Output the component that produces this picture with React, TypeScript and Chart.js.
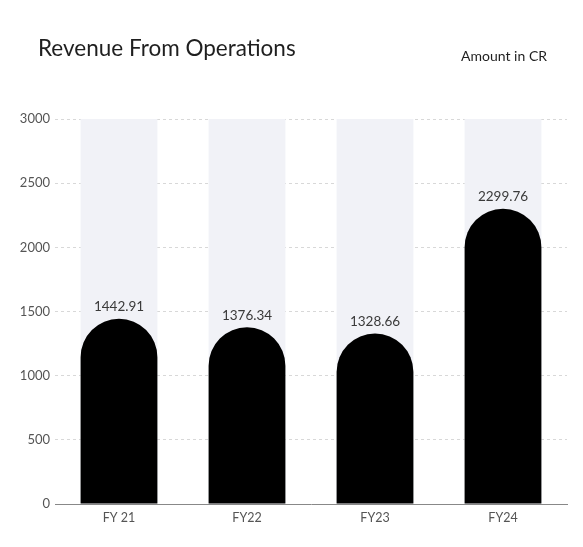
import React, { useEffect, useRef } from "react";
import { Chart, registerables } from "chart.js";

Chart.register(...registerables);

const categories = ["FY 21", "FY22", "FY23", "FY24"];
const revenue = [1442.91, 1376.34, 1328.66, 2299.76];
const backdrop = [3000, 3000, 3000, 3000];
const yTicks = [0, 500, 1000, 1500, 2000, 2500, 3000];
const titleText = "Revenue From Operations";
const unitText = "Amount in CR";

const FONT = "Lato, 'Noto Sans', sans-serif";

const headerPlugin = {
  id: "header",
  afterDraw(chart: any) {
    const ctx = chart.ctx;
    ctx.save();
    ctx.fillStyle = "#1f1f1f";
    ctx.textBaseline = "middle";
    ctx.textAlign = "left";
    ctx.font = `400 22.5px ${FONT}`;
    ctx.fillText(titleText, 38, 49);
    ctx.textAlign = "right";
    ctx.font = `400 14px ${FONT}`;
    ctx.fillText(unitText, 547, 56);
    ctx.restore();
  },
};

const valueLabelPlugin = {
  id: "valueLabels",
  afterDatasetsDraw(chart: any) {
    const ctx = chart.ctx;
    const meta = chart.getDatasetMeta(0);
    ctx.save();
    ctx.fillStyle = "#3a3a3a";
    ctx.font = `400 13.5px ${FONT}`;
    ctx.textAlign = "center";
    ctx.textBaseline = "middle";
    meta.data.forEach((bar: any, i: number) => {
      ctx.fillText(revenue[i].toFixed(2), bar.x, bar.y - 12);
    });
    ctx.restore();
  },
};

export default function App() {
  const ref = useRef<HTMLCanvasElement>(null);
  useEffect(() => {
    if (!ref.current) return;
    const chart = new Chart(ref.current, {
      type: "bar",
      data: {
        labels: categories,
        datasets: [
          {
            data: revenue,
            backgroundColor: "#000",
            borderRadius: { topLeft: 200, topRight: 200, bottomLeft: 0, bottomRight: 0 },
            borderSkipped: false,
            grouped: false,
            categoryPercentage: 0.6,
            barPercentage: 1,
            order: 0,
          },
          {
            data: backdrop,
            backgroundColor: "#f1f2f7",
            grouped: false,
            categoryPercentage: 0.6,
            barPercentage: 1,
            order: 1,
          },
        ],
      },
      options: {
        animation: false,
        responsive: false,
        maintainAspectRatio: false,
        layout: { padding: { top: 119, right: 16, left: 0, bottom: 0 } },
        plugins: {
          legend: { display: false },
          tooltip: { enabled: false },
        },
        scales: {
          x: {
            grid: { display: false, drawTicks: false },
            border: { display: true, color: "#888", width: 1 },
            ticks: { color: "#555", font: { family: FONT, size: 12.5 }, padding: 6 },
            afterFit: (s: any) => {
              s.height = 43;
            },
          },
          y: {
            min: 0,
            max: 3000,
            afterBuildTicks: (s: any) => {
              s.ticks = yTicks.map((v) => ({ value: v }));
            },
            grid: { color: "#d8d8d8", drawTicks: false },
            border: { display: false, dash: [3, 3] },
            ticks: {
              color: "#555",
              font: { family: FONT, size: 13 },
              padding: 5,
              callback: (v: any) => String(v),
            },
            afterFit: (s: any) => {
              s.width = 55;
            },
          },
        },
      },
      plugins: [headerPlugin, valueLabelPlugin],
    });
    return () => chart.destroy();
  }, []);
  return (
    <div style={{ position: "fixed", left: 0, top: 0, width: 583, height: 547, background: "#fff" }}>
      <canvas ref={ref} width={583} height={547} style={{ width: 583, height: 547 }} />
    </div>
  );
}
